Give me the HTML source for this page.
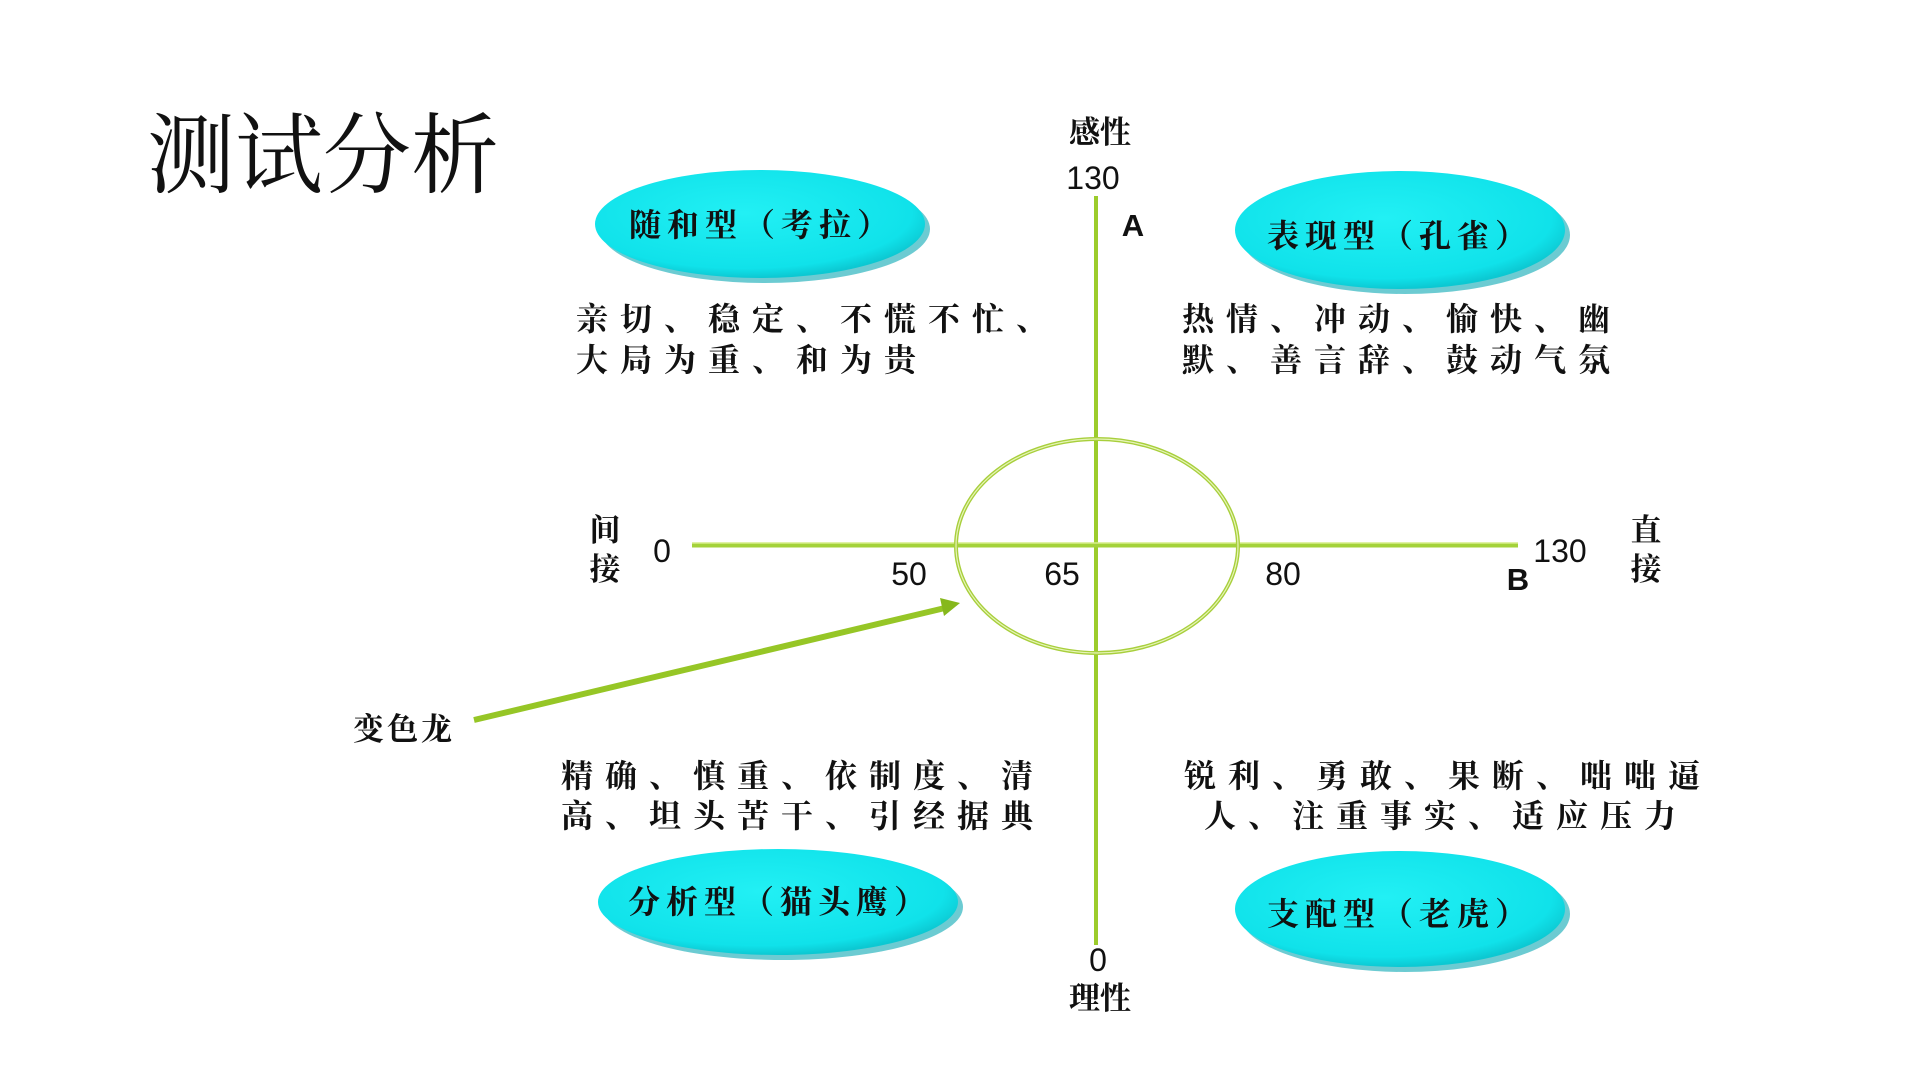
<!DOCTYPE html>
<html><head><meta charset="utf-8"><style>
html,body{margin:0;padding:0;background:#fff;width:1920px;height:1080px;overflow:hidden}
svg{display:block}
.cj{font-family:"Liberation Serif","Noto Serif CJK SC","Noto Sans CJK SC",serif;fill:#111}
.n{font-family:"Liberation Sans",sans-serif;fill:#111}
</style></head><body>
<svg width="1920" height="1080" viewBox="0 0 1920 1080" xmlns="http://www.w3.org/2000/svg">
<defs>
<radialGradient id="cy" cx="45%" cy="40%" r="60%">
<stop offset="0" stop-color="#22f0f4"/><stop offset="0.85" stop-color="#10e2ea"/><stop offset="1" stop-color="#0cc8d2"/>
</radialGradient>
</defs>
<text x="147" y="186" class="cj" font-size="88">测试分析</text>

<line x1="1096" y1="196" x2="1096" y2="945" stroke="#9ccc2c" stroke-width="4"/>
<line x1="692" y1="545" x2="1518" y2="545" stroke="#a4d23a" stroke-width="5"/>
<line x1="692" y1="543" x2="1518" y2="543" stroke="#d6ee8a" stroke-width="1.5"/>
<ellipse cx="1097" cy="546" rx="141" ry="107" fill="none" stroke="#a8cf3c" stroke-width="4"/>
<ellipse cx="1097" cy="546" rx="141" ry="107" fill="none" stroke="#e6f4b8" stroke-width="1.2"/>

<line x1="474" y1="720" x2="945" y2="608" stroke="#96c626" stroke-width="6"/>
<polygon points="960,603 940,598 944,616" fill="#86b81c"/>

<ellipse cx="765" cy="229" rx="165" ry="54" fill="#0aa9b4" opacity="0.6"/>
<ellipse cx="760" cy="224" rx="165" ry="54" fill="url(#cy)"/>
<ellipse cx="1405" cy="235" rx="165" ry="59" fill="#0aa9b4" opacity="0.6"/>
<ellipse cx="1400" cy="230" rx="165" ry="59" fill="url(#cy)"/>
<ellipse cx="783" cy="907" rx="180" ry="53" fill="#0aa9b4" opacity="0.6"/>
<ellipse cx="778" cy="902" rx="180" ry="53" fill="url(#cy)"/>
<ellipse cx="1405" cy="914" rx="165" ry="58" fill="#0aa9b4" opacity="0.6"/>
<ellipse cx="1400" cy="909" rx="165" ry="58" fill="url(#cy)"/>

<g class="cj" font-size="32" text-anchor="middle" letter-spacing="6" font-weight="bold">
<text x="762" y="236">随和型（考拉）</text>
<text x="1400" y="247">表现型（孔雀）</text>
<text x="780" y="913">分析型（猫头鹰）</text>
<text x="1400" y="925">支配型（老虎）</text>
</g>

<g class="cj" font-size="32" letter-spacing="12" font-weight="bold">
<text x="576" y="330">亲切、稳定、不慌不忙、</text>
<text x="576" y="371">大局为重、和为贵</text>
<text x="1182" y="330">热情、冲动、愉快、幽</text>
<text x="1182" y="371">默、善言辞、鼓动气氛</text>
<text x="561" y="787">精确、慎重、依制度、清</text>
<text x="561" y="827">高、坦头苦干、引经据典</text>
<text x="1184" y="787">锐利、勇敢、果断、咄咄逼</text>
<text x="1204" y="827">人、注重事实、适应压力</text>
</g>

<g class="cj" font-size="31" text-anchor="middle" font-weight="bold">
<text x="1100" y="143">感性</text>
<text x="605" y="541">间</text>
<text x="605" y="580">接</text>
<text x="1646" y="541">直</text>
<text x="1646" y="580">接</text>
<text x="404" y="740" letter-spacing="3">变色龙</text>
<text x="1100" y="1009">理性</text>
</g>

<g class="n" font-size="32" text-anchor="middle">
<text x="1093" y="189">130</text>
<text x="662" y="562">0</text>
<text x="909" y="585">50</text>
<text x="1062" y="585">65</text>
<text x="1283" y="585">80</text>
<text x="1560" y="562">130</text>
<text x="1098" y="971">0</text>
</g>
<text x="1133" y="236" class="n" font-size="31" font-weight="bold" text-anchor="middle">A</text>
<text x="1518" y="590" class="n" font-size="31" font-weight="bold" text-anchor="middle">B</text>
</svg>
</body></html>
